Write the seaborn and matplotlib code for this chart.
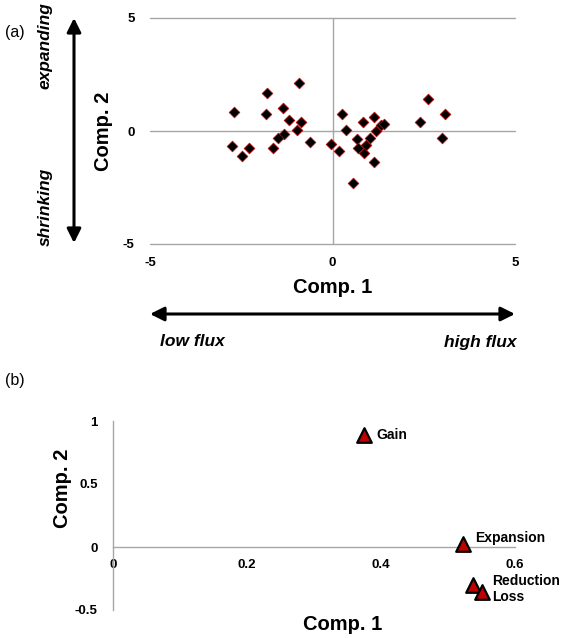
import matplotlib
matplotlib.use("Agg")
import matplotlib.pyplot as plt
from matplotlib.ticker import FuncFormatter
import seaborn as sns
import pandas as pd

# panel (a): scores of the 35 points
comp1_a = [-2.70, -1.79, -0.91, -1.83, -1.36, -1.19, -0.87, -0.98, -1.33, -1.50,
           -2.76, -2.48, -2.30, -1.62, -0.62, -0.05, 0.18, 0.27, 0.38, 0.84,
           1.13, 0.68, 0.70, 0.85, 0.91, 1.02, 1.20, 1.34, 1.41, 1.13,
           0.56, 2.41, 2.61, 3.09, 3.01]
comp2_a = [0.85, 1.67, 2.11, 0.74, 1.03, 0.47, 0.41, 0.04, -0.15, -0.32,
           -0.66, -1.09, -0.74, -0.74, -0.47, -0.56, -0.87, 0.74, 0.04, 0.40,
           0.63, -0.37, -0.74, -0.99, -0.62, -0.32, -0.01, 0.27, 0.31, -1.37,
           -2.29, 0.41, 1.42, 0.74, -0.31]

# panel (b): loadings
labels_b = ["Gain", "Expansion", "Reduction", "Loss"]
comp1_b = [0.375, 0.522, 0.537, 0.550]
comp2_b = [0.89, 0.027, -0.30, -0.36]

sns.set_theme(style="white")
plt.rcParams["font.family"] = ["Liberation Sans", "DejaVu Sans"]
plt.rcParams["font.weight"] = "bold"
for k in ["text.color", "axes.labelcolor", "xtick.color", "ytick.color"]:
    plt.rcParams[k] = "black"

W, H = 567, 638
fig = plt.figure(figsize=(W / 100, H / 100), dpi=100)


def px_axes(x0, y0, x1, y1):
    return fig.add_axes([x0 / W, 1 - y1 / H, (x1 - x0) / W, (y1 - y0) / H])


fmt = FuncFormatter(lambda v, p: f"{v:g}")
grid_col = "#a6a6a6"

# ---------- panel (a)
ax1 = px_axes(150, 18, 515, 244)
df_a = pd.DataFrame({"c1": comp1_a, "c2": comp2_a})
for y in [-5, 0, 5]:
    ax1.axhline(y, color=grid_col, lw=1.0, zorder=0, clip_on=False)
ax1.axvline(0, color=grid_col, lw=1.0, zorder=0, clip_on=False)
sns.scatterplot(data=df_a, x="c1", y="c2", ax=ax1, marker="D", s=30,
                color="black", edgecolor="#d00000", linewidth=0.5, zorder=3)
ax1.set_xlim(-5, 5)
ax1.set_ylim(-5, 5)
ax1.set_xticks([-5, 0, 5])
ax1.set_yticks([-5, 0, 5])
ax1.xaxis.set_major_formatter(fmt)
ax1.yaxis.set_major_formatter(fmt)
for s in ax1.spines.values():
    s.set_visible(False)
ax1.tick_params(length=0, labelsize=9.5)
ax1.tick_params(axis="x", pad=9)
ax1.tick_params(axis="y", pad=11)
ax1.set_xlabel("Comp. 1", fontsize=14.5, fontweight="bold", labelpad=7)
ax1.set_ylabel("Comp. 2", fontsize=14.5, fontweight="bold", labelpad=7)

# arrows and direction words
arrow = dict(arrowstyle="<|-|>,head_length=0.7,head_width=0.35", lw=2.2, color="black",
             shrinkA=0, shrinkB=0)
fig.add_artist(plt.Annotation("", xy=(150 / W, 1 - 314 / H), xytext=(515 / W, 1 - 314 / H),
                              xycoords="figure fraction", arrowprops=arrow))
fig.add_artist(plt.Annotation("", xy=(74 / W, 1 - 18 / H), xytext=(74 / W, 1 - 243 / H),
                              xycoords="figure fraction", arrowprops=arrow))
fig.text(160 / W, 1 - 342 / H, "low flux", fontsize=12.5, fontweight="bold",
         style="italic", ha="left", va="center")
fig.text(517 / W, 1 - 342 / H, "high flux", fontsize=12.5, fontweight="bold",
         style="italic", ha="right", va="center")
fig.text(45 / W, 1 - 2 / H, "expanding", fontsize=12.5, fontweight="bold",
         style="italic", rotation=90, ha="center", va="top")
fig.text(45 / W, 1 - 246 / H, "shrinking", fontsize=12.5, fontweight="bold",
         style="italic", rotation=90, ha="center", va="bottom")
fig.text(5 / W, 1 - 33 / H, "(a)", fontsize=11.5, fontweight="normal", va="center")
fig.text(5 / W, 1 - 380 / H, "(b)", fontsize=11.5, fontweight="normal", va="center")

# ---------- panel (b)
ax2 = px_axes(113, 421, 515, 610)
df_b = pd.DataFrame({"c1": comp1_b, "c2": comp2_b, "lab": labels_b})
sns.scatterplot(data=df_b, x="c1", y="c2", ax=ax2, marker="^", s=110,
                color="#c00000", edgecolor="black", linewidth=1.6, zorder=3,
                clip_on=False)
offsets = {"Gain": (9, 0), "Expansion": (9, 4), "Reduction": (14, 3), "Loss": (8, -3)}
for lab, x, y in zip(labels_b, comp1_b, comp2_b):
    ax2.annotate(lab, (x, y), xytext=offsets[lab], textcoords="offset points",
                 fontsize=10, fontweight="bold", ha="left", va="center")
ax2.set_xlim(0, 0.6)
ax2.set_ylim(-0.5, 1)
ax2.set_xticks([0, 0.2, 0.4, 0.6])
ax2.set_yticks([-0.5, 0, 0.5, 1])
ax2.xaxis.set_major_formatter(fmt)
ax2.yaxis.set_major_formatter(fmt)
ax2.spines["top"].set_visible(False)
ax2.spines["right"].set_visible(False)
ax2.spines["bottom"].set_position(("data", 0))
for k in ["bottom", "left"]:
    ax2.spines[k].set_color(grid_col)
    ax2.spines[k].set_linewidth(1.0)
ax2.tick_params(length=0, labelsize=9.5)
ax2.tick_params(axis="x", pad=9)
ax2.tick_params(axis="y", pad=11)
ax2.set_xlabel("Comp. 1", fontsize=14.5, fontweight="bold", va="center")
ax2.set_ylabel("Comp. 2", fontsize=14.5, fontweight="bold", va="center")
ax2.xaxis.set_label_coords((343 - 113) / 402, -(625 - 610) / 189)
ax2.yaxis.set_label_coords(-(113 - 62) / 402, (610 - 488) / 189)

fig.savefig("out.png", dpi=100)
